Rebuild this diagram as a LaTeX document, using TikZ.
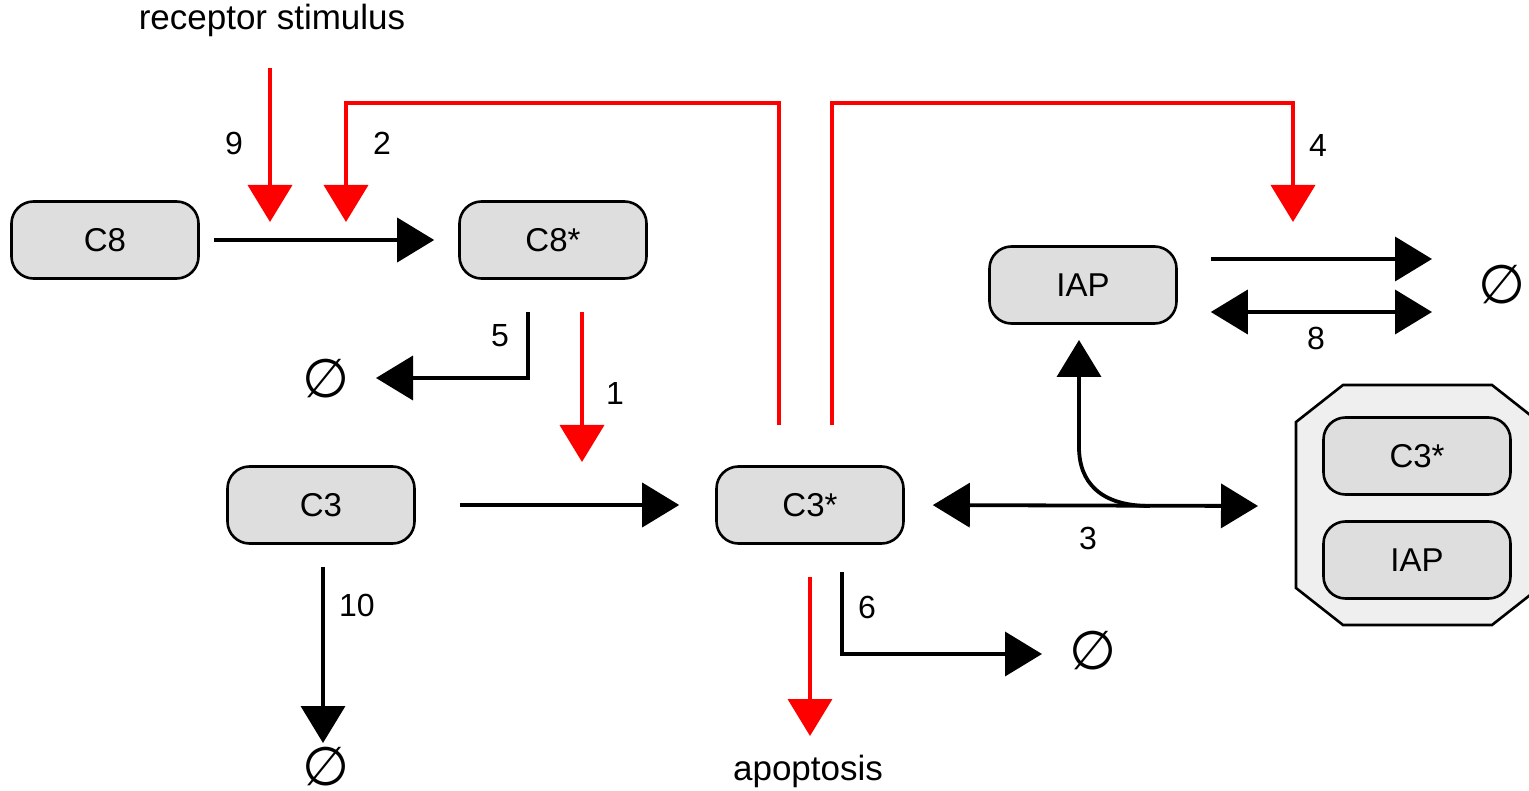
\documentclass[tikz,border=0pt]{standalone}
\usepackage{fontspec}
\setmainfont{Liberation Sans}
\newfontfamily\symfont{DejaVu Sans}
\usetikzlibrary{arrows.meta,calc}
\definecolor{boxfill}{HTML}{DEDEDE}
\definecolor{octfill}{HTML}{EFEFEF}
\definecolor{redline}{HTML}{FF0000}
\tikzset{
  box/.style={draw=black, fill=boxfill, line width=2.6pt, rounded corners=22pt,
    minimum width=187pt, minimum height=77pt, inner sep=0pt,
    font=\fontsize{33}{36}\selectfont},
  conn/.style={line width=3.8pt, -{Triangle[length=37pt,width=44pt]}},
  dconn/.style={line width=3.8pt, {Triangle[length=37pt,width=44pt]}-{Triangle[length=37pt,width=44pt]}},
  rconn/.style={conn, draw=redline, line width=3.8pt},
  lbl/.style={font=\fontsize{32}{36}\selectfont, inner sep=0pt},
  nullset/.style={font=\symfont\fontsize{54}{58}\selectfont, inner sep=0pt},
}
\begin{document}
\begin{tikzpicture}[x=1pt,y=-1pt]
\clip (0,0) rectangle (1529,791);
\useasboundingbox (0,0) rectangle (1529,791);

% nodes
\node[box] (c8) at (105,240) {C8};
\node[box] (c8s) at (553,240) {C8*};
\node[box] (iap) at (1083,285) {IAP};
\node[box] (c3) at (321,505) {C3};
\node[box] (c3s) at (810,505) {C3*};

% complex
\draw[fill=octfill, line width=2.6pt] (1296,422) -- (1343,385) -- (1492,385) -- (1539,422)
  -- (1539,588) -- (1492,625) -- (1343,625) -- (1296,588) -- cycle;
\coordinate (cplx) at (1296,506);
\node[box] (cc3) at (1417,456) {C3*};
\node[box] (ciap) at (1417,560) {IAP};

% texts
\node[lbl, font=\fontsize{35}{38}\selectfont] (rs) at (272,20) {receptor stimulus};
\node[lbl, font=\fontsize{35}{38}\selectfont] (apop) at (808,771) {apoptosis};

\node[nullset] (n5) at (326,379) {∅};
\node[nullset] (n10) at (326,767) {∅};
\node[nullset] (n6) at (1093,651) {∅};
\node[nullset] (n8) at (1502,285) {∅};

% black reactions
\draw[conn, shorten <=14pt, shorten >=24pt] (c8.east) -- (c8s.west);
\draw[conn, shorten <=44pt, shorten >=36pt] (c3.east) -- (c3s.west);
\draw[conn] ($(c8s.south)+(-25,32)$) coordinate (s5) |- (376,378) coordinate (t5);
\draw[conn, shorten <=22pt] (c3.south) ++(2,0) coordinate (s10) -- (323,743) coordinate (t10);
\draw[conn] (842,572) coordinate (s6) |- (1042,654) coordinate (t6);
\draw[dconn, shorten <=28pt] (c3s.east) -- (1258,506) coordinate (t3);
\draw[line width=3.8pt, -{Triangle[length=37pt,width=44pt]}] (1150,506) .. controls (1100,506) and (1079,482) .. (1079,447) -- (1079,340) coordinate (t3b);
\draw[conn, shorten <=33pt] (iap.east |- 0,259) -- (1432,259) coordinate (t7);
\draw[dconn, shorten <=33pt] (iap.east |- 0,312) -- (1432,312) coordinate (t8);

% red influences
\draw[rconn] (270,68) coordinate (s9) -- (270,222) coordinate (t9);
\draw[rconn] (c3s.north) ++(-31,-40) coordinate (s2) |- (346,103) -- (346,222) coordinate (t2);
\draw[rconn] (c3s.north) ++(22,-40) coordinate (s4) |- (1293,103) -- (1293,222) coordinate (t4);
\draw[rconn, shorten <=32pt] (c8s.south -| 582,0) -- (582,462) coordinate (t1);
\draw[rconn, shorten <=32pt] (c3s.south) -- (810,736) coordinate (ta);

% labels
\node[lbl] at (234,143) {9};
\node[lbl] at (382,143) {2};
\node[lbl] at (1318,145) {4};
\node[lbl] at (615,393) {1};
\node[lbl] at (500,336) {5};
\node[lbl] at (357,605) {10};
\node[lbl] at (867,607) {6};
\node[lbl] at (1088,538) {3};
\node[lbl] at (1316,338) {8};
\end{tikzpicture}
\end{document}
